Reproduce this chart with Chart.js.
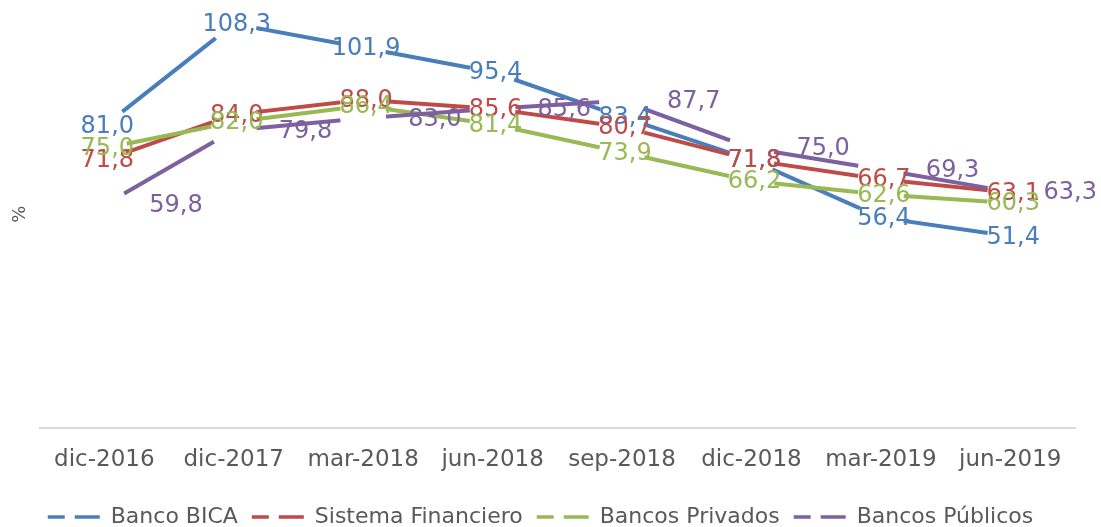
<!DOCTYPE html>
<html>
<head>
<meta charset="utf-8">
<script src="https://cdn.jsdelivr.net/npm/chart.js@4.4.0/dist/chart.umd.min.js"></script>
<style>
  html, body { margin: 0; padding: 0; background: #fff; }
  #wrap { width: 1101px; height: 527px; }
</style>
</head>
<body>
<div id="wrap"><canvas id="myChart"></canvas></div>
<script>
const periods = ['dic-2016', 'dic-2017', 'mar-2018', 'jun-2018', 'sep-2018', 'dic-2018', 'mar-2019', 'jun-2019'];
const bancoBica = [81.0, 108.3, 101.9, 95.4, 83.4, 71.8, 56.4, 51.4];
const sistemaFinanciero = [71.8, 84.0, 88.0, 85.6, 80.7, 71.8, 66.7, 63.1];
const bancosPrivados = [75.0, 82.0, 86.4, 81.4, 73.9, 66.2, 62.6, 60.3];
const bancosPublicos = [59.8, 79.8, 83.0, 85.6, 87.7, 75.0, 69.3, 63.3];
const seriesNames = ['Banco BICA', 'Sistema Financiero', 'Bancos Privados', 'Bancos Públicos'];
const seriesColors = ['#4A7EBB', '#BE4B48', '#98B954', '#7D60A0'];

const GAP = 23;
const font = '"DejaVu Sans", sans-serif';

// line is broken around each of its own points, like the original
const pointGaps = {
    id: 'pointGaps',
    beforeDatasetDraw(chart, args) {
        const ctx = chart.ctx;
        ctx.save();
        ctx.beginPath();
        ctx.rect(0, 0, chart.width, chart.height);
        args.meta.data.forEach(p => {
            ctx.moveTo(p.x + GAP, p.y);
            ctx.arc(p.x, p.y, GAP, 0, Math.PI * 2);
        });
        ctx.clip('evenodd');
    },
    afterDatasetDraw(chart) {
        chart.ctx.restore();
    }
};

const valueLabels = {
    id: 'valueLabels',
    afterDatasetsDraw(chart) {
        const ctx = chart.ctx;
        ctx.save();
        ctx.font = '24px ' + font;
        ctx.textBaseline = 'middle';
        chart.data.datasets.forEach((ds, i) => {
            const meta = chart.getDatasetMeta(i);
            const onRight = i === 3;
            ctx.fillStyle = ds.borderColor;
            ctx.textAlign = onRight ? 'left' : 'center';
            meta.data.forEach((p, j) => {
                const txt = ds.data[j].toFixed(1).replace('.', ',');
                let x = p.x + 3;
                if (onRight) {
                    x = Math.min(p.x + 45, chart.width - 4 - ctx.measureText(txt).width);
                }
                ctx.fillText(txt, x, p.y + 1);
            });
        });
        ctx.restore();
    }
};

const allSeries = [bancoBica, sistemaFinanciero, bancosPrivados, bancosPublicos];

const ctx = document.getElementById('myChart').getContext('2d');
const myChart = new Chart(ctx, {
    type: 'line',
    data: {
        labels: periods,
        datasets: allSeries.map((values, i) => ({
            label: seriesNames[i],
            data: values,
            borderColor: seriesColors[i],
            backgroundColor: seriesColors[i],
            borderWidth: 4,
            pointRadius: 0,
            tension: 0,
            fill: false,
            order: 3 - i
        }))
    },
    options: {
        responsive: true,
        maintainAspectRatio: false,
        animation: false,
        layout: { padding: { top: 0, left: 6, right: 26, bottom: -11 } },
        scales: {
            x: {
                offset: true,
                grid: { display: false, drawTicks: false },
                border: { display: true, color: '#D9D9D9', width: 2 },
                ticks: { color: '#595959', padding: 2, font: { family: font, size: 23, lineHeight: 2.6 } }
            },
            y: {
                min: 0,
                max: 114.7,
                grid: { display: false, drawTicks: false },
                border: { display: false },
                ticks: { display: false },
                title: { display: true, text: '%', color: '#595959', padding: { top: 4, bottom: 8 }, font: { family: font, size: 18 } }
            }
        },
        plugins: {
            tooltip: { enabled: false },
            legend: {
                position: 'bottom',
                labels: {
                    usePointStyle: true,
                    pointStyleWidth: 52,
                    padding: 14,
                    color: '#595959',
                    font: { family: font, size: 22 },
                    generateLabels(chart) {
                        return chart.data.datasets.map((ds, i) => ({
                            text: ds.label,
                            fillStyle: ds.borderColor,
                            strokeStyle: ds.borderColor,
                            lineWidth: 3.5,
                            lineDash: [17, 10, 100],
                            pointStyle: 'line',
                            fontColor: '#595959',
                            hidden: false,
                            datasetIndex: i
                        }));
                    }
                }
            }
        }
    },
    plugins: [pointGaps, valueLabels]
});
</script>
</body>
</html>
